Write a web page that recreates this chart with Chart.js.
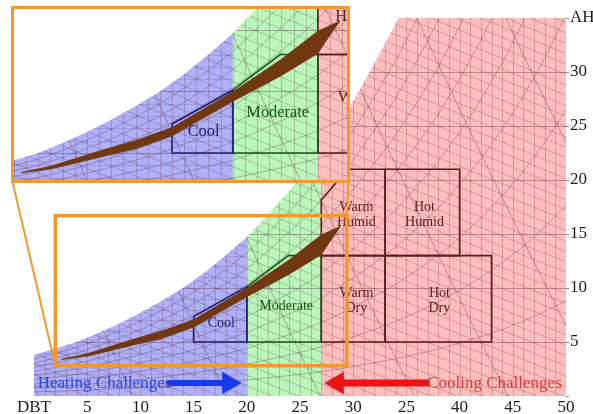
<!DOCTYPE html>
<html>
<head>
<meta charset="utf-8">
<script src="https://cdn.jsdelivr.net/npm/chart.js@4/dist/chart.umd.min.js"></script>
<style>
  html, body { margin: 0; padding: 0; background: #fff; }
  #wrap { position: relative; width: 593px; height: 414px; }
  #main { position: absolute; left: 0; top: 0; }
  #zoomFrame {
    position: absolute; left: 11px; top: 6px; width: 339px; height: 177px;
    border: 3px solid rgb(242,152,44); box-sizing: border-box; background: #fff;
  }
  #zoom { display: block; }
</style>
</head>
<body>
<div id="wrap">
  <canvas id="main" width="593" height="414"></canvas>
  <div id="zoomFrame"><canvas id="zoom" width="333" height="171"></canvas></div>
</div>
<script>
// ---- data ----------------------------------------------------------------
// saturation boundary: dry-bulb temperature (°C) and absolute humidity (g/kg)
const satT = [0, 2, 4, 6, 8, 10, 12, 14, 16, 18, 20, 22, 24, 26, 27, 28, 30, 32, 34, 36, 38, 40, 42, 44, 46, 48, 50];
const satW = [3.8, 4.4, 5.0, 5.8, 6.7, 7.7, 8.8, 10.0, 11.4, 13.0, 14.7, 16.8, 19.0, 21.4, 22.7, 24.2, 27.3, 30.8, 34.5, 38.8, 43.5, 48.9, 54.9, 61.7, 69.4, 78.2, 88.3];

// heating | moderate | cooling split (°C)
const bandSplits = [20, 27];

// axis tick labels
const xTickLabels = ['DBT', '5', '10', '15', '20', '25', '30', '25', '40', '45', '50'];
const yTickLabels = ['', '5', '10', '15', '20', '25', '30', 'AH'];

// climate zone outlines (°C, g/kg)
const coolT = [15, 15, 20, 20, 15];
const coolW = [5, 7.35, 10.1, 5, 5];
const moderateT = [20, 20, 23.9, 27, 27, 20];
const moderateW = [5, 10.1, 13, 13, 5, 5];
const warmDryT = [27, 33, 33, 27, 27];
const warmDryW = [5, 5, 13, 13, 5];
const hotDryT = [33, 43, 43, 33, 33];
const hotDryW = [5, 5, 13, 13, 5];
const warmHumidT = [27, 27, 28.4, 29.45, 33, 33, 27];
const warmHumidW = [13, 18.15, 19.75, 21, 21, 13, 13];
const hotHumidT = [33, 33, 40, 40, 33];
const hotHumidW = [13, 21, 21, 13, 13];

// yearly climate path (upper edge out, lower edge back)
const pathUpperT = [2.6, 5, 9.2, 12, 15, 20, 24, 27, 28.8];
const pathUpperW = [3.4, 3.9, 5.2, 6.0, 7.05, 9.95, 12.6, 14.9, 15.7];
const pathLowerT = [28, 27, 24, 20, 15, 12, 9.2, 5, 2.6];
const pathLowerW = [14.6, 13.1, 11.3, 9.2, 6.4, 5.35, 4.7, 3.7, 3.4];

// zone names and their anchor points
const zoneNames = ['Cool', 'Moderate', 'Warm', 'Dry', 'Hot', 'Dry', 'Warm', 'Humid', 'Hot', 'Humid'];
const zoneNameT = [17.6, 23.7, 30.3, 30.3, 38.1, 38.1, 30.3, 30.3, 36.7, 36.7];
const zoneNameW = [6.7, 8.3, 9.5, 8.1, 9.5, 8.1, 17.5, 16.1, 17.5, 16.1];

// heating / cooling arrows along the bottom
const heatArrowT = [12.5, 18.3];
const coolArrowT = [37.2, 28.5];
const arrowW = 1.2;
const challengeNames = ['Heating Challenges', 'Cooling Challenges'];
const challengeT = [0.35, 49.6];

// magnified window (°C, g/kg)
const zoomT = [2.0, 29.4];
const zoomW = [2.8, 16.7];

// ---- styling -------------------------------------------------------------
const SERIF = '"Liberation Serif", "DejaVu Serif", serif';
const ORANGE = 'rgb(242,152,44)';
const FILL_HEAT = 'rgb(176,176,248)';
const FILL_MOD = 'rgb(186,246,186)';
const FILL_COOL = 'rgb(255,190,190)';
const NAVY = 'rgb(30,30,110)';
const DKGREEN = 'rgb(25,85,25)';
const MAROON = 'rgb(95,25,25)';
const PATH_BROWN = 'rgb(112,56,16)';
const GRID_INK = 'rgba(80,40,60,';
const zoneNameColor = [NAVY, DKGREEN, MAROON, MAROON, MAROON, MAROON, MAROON, MAROON, MAROON, MAROON];

const pts = (xs, ys) => xs.map((x, i) => ({ x, y: ys[i] }));

function zoneFill(from, to, color, extra) {
  const inside = satT.map((t, i) => ({ x: t, y: satW[i] })).filter(p => p.x > from && p.x < to);
  const lo = satT.indexOf(from), hi = satT.indexOf(to);
  const data = [{ x: from, y: 0 }, { x: from, y: satW[lo] }, ...inside, { x: to, y: satW[hi] }, { x: to, y: 0 }];
  return Object.assign({
    data, showLine: true, fill: 'shape', backgroundColor: color,
    borderWidth: 0, borderColor: 'rgba(0,0,0,0)', pointRadius: 0, tension: 0
  }, extra);
}

function outline(xs, ys, color, order) {
  return { data: pts(xs, ys), showLine: true, fill: false, borderColor: color, borderWidth: 1.6,
           pointRadius: 0, tension: 0, order };
}

function buildDatasets() {
  const tMax = satT[satT.length - 1];
  return [
    zoneFill(satT[0], bandSplits[0], FILL_HEAT, { order: 102 }),
    zoneFill(bandSplits[0], bandSplits[1], FILL_MOD, { order: 101 }),
    zoneFill(bandSplits[1], tMax, FILL_COOL, { order: 100, gridAfter: true }),
    outline(hotDryT, hotDryW, MAROON, 60),
    outline(hotHumidT, hotHumidW, MAROON, 59),
    outline(warmDryT, warmDryW, MAROON, 58),
    outline(warmHumidT, warmHumidW, MAROON, 57),
    outline(moderateT, moderateW, DKGREEN, 56),
    outline(coolT, coolW, NAVY, 55),
    {
      data: [...pts(pathUpperT, pathUpperW), ...pts(pathLowerT, pathLowerW)],
      showLine: true, fill: 'shape', backgroundColor: PATH_BROWN, borderColor: PATH_BROWN,
      borderWidth: 1, pointRadius: 0, tension: 0, order: 20
    },
    {
      data: pts(heatArrowT, [arrowW, arrowW]), showLine: true, borderColor: 'rgb(20,60,235)',
      borderWidth: 6, pointRadius: [0, 13], pointStyle: 'triangle', pointRotation: 90,
      pointBackgroundColor: 'rgb(20,60,235)', pointBorderWidth: 0, order: 10
    },
    {
      data: pts(coolArrowT, [arrowW, arrowW]), showLine: true, borderColor: 'rgb(235,20,20)',
      borderWidth: 7, pointRadius: [0, 13], pointStyle: 'triangle', pointRotation: -90,
      pointBackgroundColor: 'rgb(235,20,20)', pointBorderWidth: 0, order: 10
    }
  ];
}

// psychrometric grid, drawn right after the zone fills and clipped to them
const psychroGrid = {
  id: 'psychroGrid',
  afterDatasetDraw(chart, args) {
    if (!chart.data.datasets[args.index].gridAfter) return;
    const { ctx, chartArea: a, scales: { x, y } } = chart;
    const gx = v => x.getPixelForValue(v), gy = v => y.getPixelForValue(v);
    ctx.save();
    ctx.beginPath(); ctx.rect(a.left, a.top, a.width, a.height); ctx.clip();
    ctx.beginPath();
    ctx.moveTo(gx(satT[0]), gy(0));
    satT.forEach((t, i) => ctx.lineTo(gx(t), gy(satW[i])));
    ctx.lineTo(gx(satT[satT.length - 1]), gy(0));
    ctx.closePath(); ctx.clip();
    ctx.lineWidth = 1;
    const seg = (x1, y1, x2, y2) => { ctx.beginPath(); ctx.moveTo(x1, y1); ctx.lineTo(x2, y2); ctx.stroke(); };
    const curve = (fn, t0, t1, step) => {
      ctx.beginPath();
      for (let t = t0; t <= t1 + 1e-9; t += step) {
        const px = gx(t), py = gy(fn(t));
        if (t === t0) ctx.moveTo(px, py); else ctx.lineTo(px, py);
      }
      ctx.stroke();
    };
    // dry-bulb lines every 1 °C
    ctx.strokeStyle = GRID_INK + '0.24)';
    for (let t = 1; t < 50; t++) { const px = Math.round(gx(t)) + 0.5; seg(px, gy(0), px, gy(40)); }
    // humidity lines
    for (let w = 1; w < 35; w++) {
      const py = Math.round(gy(w)) + 0.5;
      if (w % 5 === 0) { ctx.strokeStyle = GRID_INK + '0.36)'; seg(gx(0), py, gx(50), py); }
      else { ctx.strokeStyle = GRID_INK + '0.16)'; seg(gx(0), py, gx(bandSplits[0]), py); }
    }
    // enthalpy lines (kJ/kg)
    ctx.strokeStyle = GRID_INK + '0.26)';
    for (let h = -10; h <= 170; h += 2.5) {
      curve(t => (h - 1.006 * t) / (2.501 + 0.00186 * t), -2, 52, 6);
    }
    // relative humidity curves
    ctx.strokeStyle = GRID_INK + '0.32)';
    for (let rh = 1; rh <= 9; rh++) {
      ctx.beginPath();
      satT.forEach((t, i) => {
        const px = gx(t), py = gy(satW[i] * rh / 10);
        if (i === 0) ctx.moveTo(px, py); else ctx.lineTo(px, py);
      });
      ctx.stroke();
    }
    // specific volume lines (m³/kg)
    ctx.strokeStyle = GRID_INK + '0.36)';
    for (let v = 0.775; v <= 0.951; v += 0.025) {
      curve(t => ((v * 101.325) / (0.287042 * (t + 273.15)) - 1) / 1.6078 * 1000, -2, 52, 2);
    }
    ctx.restore();
  }
};

// zone names and the heating / cooling captions
function makeLabels(scaleFactor, withCaptions) {
  return {
    id: 'zoneText',
    afterDatasetsDraw(chart) {
      const { ctx, chartArea: a, scales: { x, y } } = chart;
      ctx.save();
      ctx.beginPath(); ctx.rect(a.left, a.top, a.width, a.height); ctx.clip();
      ctx.textAlign = 'center'; ctx.textBaseline = 'middle';
      ctx.font = (14 * scaleFactor).toFixed(1) + 'px ' + SERIF;
      zoneNames.forEach((name, i) => {
        ctx.fillStyle = zoneNameColor[i];
        ctx.fillText(name, x.getPixelForValue(zoneNameT[i]), y.getPixelForValue(zoneNameW[i]));
      });
      if (withCaptions) {
        ctx.font = '17px ' + SERIF;
        ctx.textAlign = 'left';
        ctx.fillStyle = 'rgb(40,70,225)';
        ctx.fillText(challengeNames[0], x.getPixelForValue(challengeT[0]), y.getPixelForValue(arrowW));
        ctx.textAlign = 'right';
        ctx.fillStyle = 'rgb(225,55,55)';
        ctx.fillText(challengeNames[1], x.getPixelForValue(challengeT[1]), y.getPixelForValue(arrowW));
      }
      ctx.restore();
    }
  };
}

// frame of the magnified window and its leader lines to the inset
const zoomFrame = {
  id: 'zoomFrame',
  afterDraw(chart) {
    const { ctx, scales: { x, y } } = chart;
    const l = x.getPixelForValue(zoomT[0]), r = x.getPixelForValue(zoomT[1]);
    const t = y.getPixelForValue(zoomW[1]), b = y.getPixelForValue(zoomW[0]);
    const el = document.getElementById('zoomFrame');
    const fl = el.offsetLeft, fr = el.offsetLeft + el.offsetWidth, fb = el.offsetTop + el.offsetHeight;
    ctx.save();
    ctx.strokeStyle = ORANGE;
    ctx.lineWidth = 2;
    ctx.beginPath(); ctx.moveTo(fl + 1.5, fb - 1.5); ctx.lineTo(l, b); ctx.stroke();
    ctx.beginPath(); ctx.moveTo(fr - 1.5, fb - 1.5); ctx.lineTo(r, t); ctx.stroke();
    ctx.lineWidth = 3.5;
    ctx.strokeRect(l, t, r - l, b - t);
    ctx.restore();
  }
};

Chart.defaults.font.family = SERIF;

new Chart(document.getElementById('main'), {
  type: 'scatter',
  data: { datasets: buildDatasets() },
  options: {
    responsive: false, animation: false, devicePixelRatio: 1,
    layout: { autoPadding: false, padding: { left: 34, right: 0, top: 18, bottom: 0 } },
    plugins: { legend: { display: false }, tooltip: { enabled: false } },
    scales: {
      x: {
        type: 'linear', min: 0, max: 50,
        grid: { display: false, drawTicks: false }, border: { display: false },
        ticks: {
          stepSize: 5, autoSkip: false, maxRotation: 0, padding: 1,
          color: '#1c1c1c', font: { family: SERIF, size: 17 },
          callback: (v, i) => xTickLabels[i]
        },
        afterFit: s => { s.height = 18; }
      },
      y: {
        type: 'linear', position: 'right', min: 0, max: 35,
        grid: { drawOnChartArea: false, tickLength: 3, color: '#888' }, border: { display: false },
        ticks: {
          stepSize: 5, padding: 1, color: '#1c1c1c', font: { family: SERIF, size: 17 },
          callback: (v, i) => yTickLabels[i]
        },
        afterFit: s => { s.width = 27; }
      }
    }
  },
  plugins: [psychroGrid, makeLabels(1, true), zoomFrame]
});

new Chart(document.getElementById('zoom'), {
  type: 'scatter',
  data: { datasets: buildDatasets() },
  options: {
    responsive: false, animation: false, devicePixelRatio: 1,
    layout: { autoPadding: false, padding: 0 },
    plugins: { legend: { display: false }, tooltip: { enabled: false } },
    scales: {
      x: { type: 'linear', min: zoomT[0], max: zoomT[1], display: false },
      y: { type: 'linear', min: zoomW[0], max: zoomW[1], display: false }
    }
  },
  plugins: [psychroGrid, makeLabels(1.17, false)]
});
</script>
</body>
</html>
